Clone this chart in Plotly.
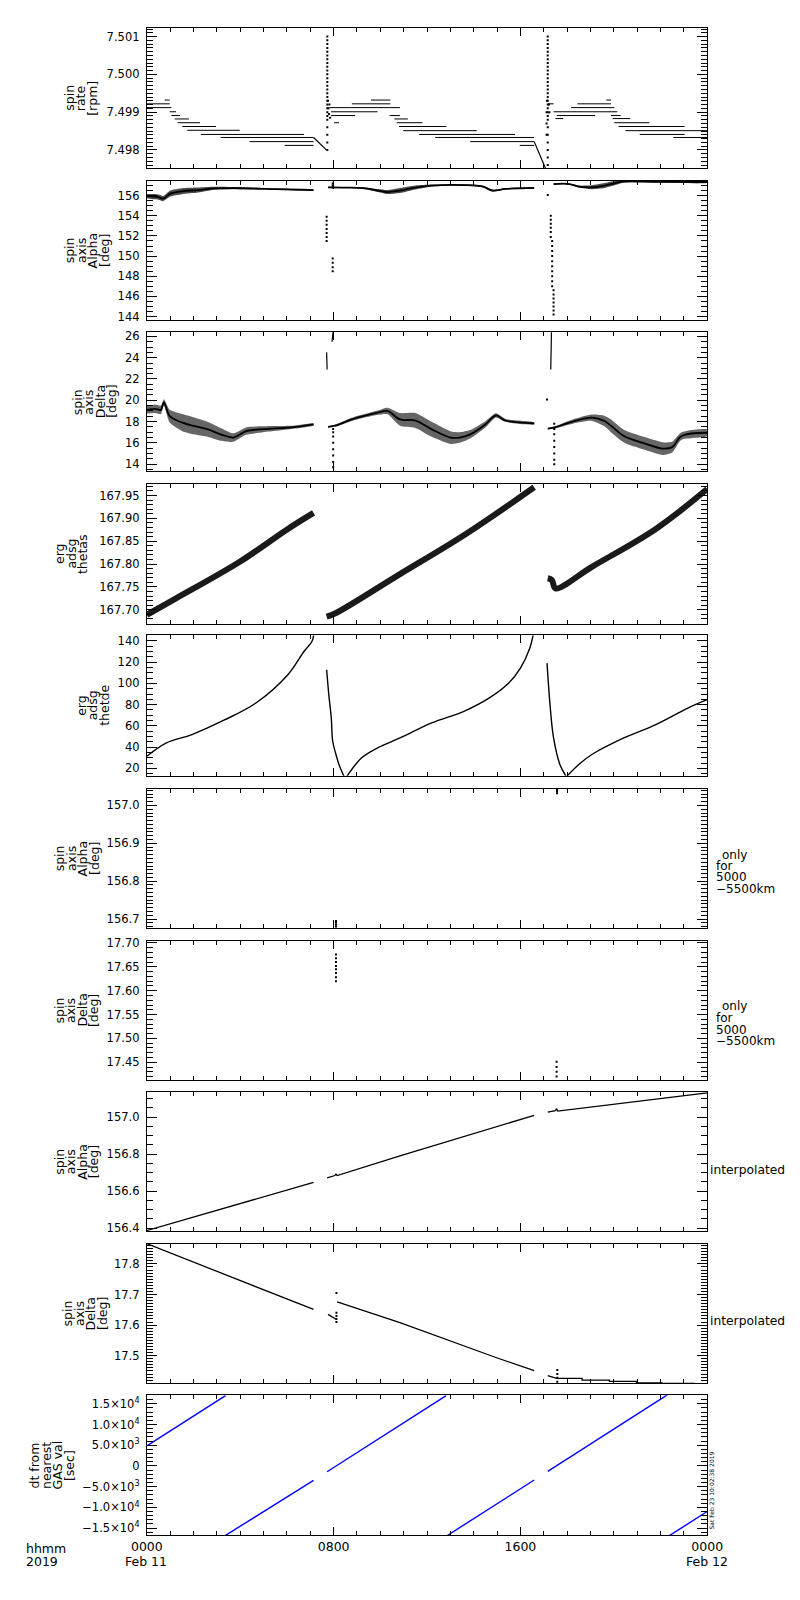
import plotly.graph_objects as go

# ---------------- data (time in hours from 2019-02-11 00:00 UT) ----------------
# Panel 1: spin rate [rpm] -- quantised level runs (start_h, end_h, value)
rate_runs = [
    (0.00, 0.98, 7.49922), (0.77, 0.98, 7.49932), (0.00, 1.05, 7.49912),
    (0.98, 1.25, 7.49901), (1.05, 1.42, 7.49891), (1.19, 1.80, 7.49882),
    (1.32, 2.28, 7.49872), (1.52, 2.96, 7.49862), (1.73, 3.98, 7.49852),
    (2.31, 6.73, 7.49841), (3.16, 7.14, 7.49833), (4.40, 7.14, 7.49822),
    (5.90, 7.14, 7.49812),
    (7.82, 10.84, 7.49912), (7.89, 9.88, 7.49901), (7.89, 8.92, 7.49891),
    (8.02, 8.23, 7.49872), (8.78, 10.43, 7.49922), (9.60, 10.43, 7.49932),
    (10.40, 10.84, 7.49891), (10.60, 11.18, 7.49882), (10.70, 11.80, 7.49872),
    (10.80, 12.83, 7.49862), (10.98, 14.13, 7.49851), (11.66, 15.77, 7.49841),
    (12.35, 16.59, 7.49833), (13.85, 16.59, 7.49822), (15.97, 16.59, 7.49812),
    (17.20, 17.42, 7.49922), (18.44, 19.88, 7.49922), (19.68, 19.88, 7.49932),
    (18.17, 20.02, 7.49912), (17.42, 20.15, 7.49901), (17.56, 19.20, 7.49891),
    (19.88, 20.29, 7.49891), (17.50, 17.83, 7.49883), (19.95, 20.70, 7.49883),
    (20.02, 21.52, 7.49872), (20.20, 23.03, 7.49862), (20.50, 24.00, 7.49851),
    (21.11, 23.03, 7.49841), (22.55, 24.00, 7.49833),
]
rate_ramp_a_t = [7.14, 7.69]
rate_ramp_a_v = [7.49833, 7.49800]
rate_ramp_b_t = [16.59, 17.07]
rate_ramp_b_v = [7.49822, 7.49752]
rate_spike_a_h = 7.73
rate_spike_a_v = [7.4980, 7.4982, 7.4984, 7.4986, 7.4988, 7.4989, 7.4990, 7.4991,
                  7.4992, 7.4993, 7.4994, 7.4995, 7.4996, 7.4997, 7.4998, 7.4999,
                  7.5000, 7.5001, 7.5002, 7.5003, 7.5004, 7.5005, 7.5006, 7.5007,
                  7.5008, 7.5009, 7.5010]
rate_spike_b_h = 17.17
rate_spike_b_v = [7.4976, 7.4978, 7.4980, 7.4982, 7.4984, 7.4986, 7.4988, 7.4989,
                  7.4990, 7.4991, 7.4992, 7.4993, 7.4994, 7.4995, 7.4996, 7.4997,
                  7.4998, 7.4999, 7.5000, 7.5001, 7.5002, 7.5003, 7.5004, 7.5005,
                  7.5006, 7.5007, 7.5008, 7.5009, 7.5010]
rate_extra_t = [7.76, 7.78, 7.80, 7.82, 7.85, 17.12, 17.12, 17.12, 17.14, 17.22, 17.24]
rate_extra_v = [7.4993, 7.4991, 7.49895, 7.4992, 7.49885, 7.4984, 7.4987, 7.4990,
                7.4993, 7.4992, 7.4990]

# Panel 2: spin axis alpha [deg] -- centre line and half-width of scatter band
alpha_a_t = [0.0, 0.3, 0.5, 0.7, 1.0, 1.5, 2.2, 2.9, 4.0, 5.5, 7.14]
alpha_a_v = [155.95, 155.9, 155.85, 155.7, 156.2, 156.43, 156.55, 156.72, 156.73, 156.65, 156.55]
alpha_a_w = [0.2, 0.25, 0.25, 0.25, 0.3, 0.3, 0.25, 0.15, 0.1, 0.05, 0.05]
alpha_b_t = [7.76, 8.5, 9.24, 9.9, 10.3, 10.84, 11.5, 12.2, 13.58, 14.4, 14.8, 15.36, 16.59]
alpha_b_v = [156.82, 156.8, 156.75, 156.5, 156.35, 156.5, 156.8, 157.0, 157.05, 156.9, 156.5, 156.66, 156.76]
alpha_b_w = [0.05, 0.05, 0.08, 0.15, 0.2, 0.25, 0.2, 0.1, 0.08, 0.08, 0.1, 0.05, 0.05]
alpha_c_t = [17.42, 18.1, 18.5, 19.06, 19.6, 20.15, 20.43, 22.0, 24.0]
alpha_c_v = [157.15, 157.15, 156.9, 156.83, 157.0, 157.3, 157.4, 157.37, 157.35]
alpha_c_w = [0.05, 0.05, 0.1, 0.2, 0.25, 0.2, 0.1, 0.08, 0.08]
alpha_drop_t = [7.70] * 7 + [7.96] * 4 + [7.96] * 3 + [17.17] + [17.30] * 6 + [17.36] * 10 + [17.42] * 7
alpha_drop_v = [153.9, 153.5, 153.1, 152.7, 152.3, 151.9, 151.5,
                149.75, 149.35, 148.9, 148.5,
                156.8, 157.0, 157.2,
                156.07,
                154.0, 153.6, 153.2, 152.8, 152.4, 151.9,
                151.5, 151.0, 150.5, 150.0, 149.5, 149.0, 148.5, 148.0, 147.5, 147.0,
                146.6, 146.2, 145.8, 145.4, 145.0, 144.6, 144.2]

# Panel 3: spin axis delta [deg]
delta_a_t = [0.0, 0.35, 0.6, 0.73, 0.98, 1.52, 2.0, 2.62, 3.16, 3.71, 4.25, 5.35, 6.2, 7.14]
delta_a_v = [19.1, 19.2, 19.1, 19.8, 18.5, 17.9, 17.6, 17.26, 16.8, 16.5, 17.1, 17.33, 17.45, 17.73]
delta_a_w = [0.35, 0.4, 0.4, 0.3, 0.6, 0.8, 0.8, 0.7, 0.6, 0.4, 0.35, 0.25, 0.15, 0.1]
delta_b_t = [7.76, 8.1, 8.78, 9.88, 10.3, 10.84, 11.5, 12.2, 13.0, 13.4, 13.85, 14.5, 14.95, 15.36, 16.59]
delta_b_v = [17.5, 17.63, 18.2, 18.83, 19.0, 18.2, 18.1, 17.27, 16.5, 16.5, 16.8, 17.73, 18.57, 18.1, 17.83]
delta_b_w = [0.05, 0.1, 0.15, 0.2, 0.3, 0.6, 0.7, 0.7, 0.6, 0.5, 0.4, 0.3, 0.2, 0.15, 0.1]
delta_c_t = [17.17, 17.42, 18.24, 19.06, 19.6, 19.88, 20.43, 21.25, 22.1, 22.5, 22.9, 24.0]
delta_c_v = [17.33, 17.42, 18.0, 18.36, 18.05, 17.6, 16.64, 16.0, 15.46, 15.6, 16.64, 16.95]
delta_c_w = [0.05, 0.1, 0.2, 0.3, 0.5, 0.6, 0.6, 0.6, 0.6, 0.5, 0.35, 0.3]
delta_jump_a_t = [7.70, 7.72]
delta_jump_a_v = [24.5, 22.9]
delta_jump_b_t = [7.93, 7.98]
delta_jump_b_v = [25.5, 26.5]
delta_jump_c_t = [17.30, 17.33]
delta_jump_c_v = [22.9, 26.5]
delta_dots_t = [7.98] * 8 + [17.14] + [17.45] * 8
delta_dots_v = [17.3, 17.0, 16.6, 16.0, 15.4, 14.8, 14.2, 13.7,
                20.07,
                17.8, 17.3, 16.8, 16.2, 15.6, 15.0, 14.4, 14.0]

# Panel 4: erg adsg thetas
thetas_a_t = [0.0, 1.25, 3.98, 6.04, 7.14]
thetas_a_v = [167.689, 167.725, 167.805, 167.877, 167.912]
thetas_b_t = [7.70, 8.1, 10.84, 13.58, 16.59]
thetas_b_v = [167.685, 167.693, 167.778, 167.863, 167.968]
thetas_c_t = [17.17, 17.35, 17.5, 19.06, 21.8, 24.0]
thetas_c_v = [167.769, 167.765, 167.747, 167.794, 167.877, 167.964]

# Panel 5: erg adsg thetde
thetde_a_t = [0.0, 0.84, 1.93, 3.3, 4.67, 6.04, 6.73, 7.07, 7.15]
thetde_a_v = [31.4, 44.0, 51.8, 65.3, 81.5, 108.2, 130.1, 139.5, 146.0]
thetde_b_t = [7.70, 7.80, 7.90, 7.96, 8.10, 8.23, 8.44]
thetde_b_v = [112.9, 88.0, 67.4, 45.5, 33.0, 23.6, 12.5]
thetde_c_t = [8.57, 9.2, 9.88, 10.84, 12.2, 13.58, 14.67, 15.5, 16.0, 16.4, 16.55]
thetde_c_v = [12.5, 29.9, 39.3, 48.6, 62.8, 73.7, 86.3, 100.3, 114.4, 133.2, 146.0]
thetde_d_t = [17.14, 17.28, 17.42, 17.69, 17.94]
thetde_d_v = [119.1, 76.8, 48.6, 23.6, 13.0]
thetde_e_t = [17.99, 18.5, 19.06, 20.43, 21.8, 23.17, 24.0]
thetde_e_v = [12.5, 23.6, 33.0, 48.6, 61.2, 76.8, 84.7]

# Panel 6: spin axis alpha, only for 5000-5500 km
alpha_r_t = [8.10] * 4 + [17.57] * 3
alpha_r_v = [156.695, 156.690, 156.685, 156.680, 157.041, 157.037, 157.032]

# Panel 7: spin axis delta, only for 5000-5500 km
delta_r_t = [8.10] * 8 + [17.55] * 4
delta_r_v = [17.676, 17.668, 17.660, 17.652, 17.645, 17.637, 17.628, 17.620,
             17.451, 17.440, 17.430, 17.420]

# Panel 8: interpolated alpha
alpha_i_a_t = [0.0, 7.14]
alpha_i_a_v = [156.387, 156.647]
alpha_i_b_t = [7.72, 8.05, 8.10, 8.15, 10.84, 16.59]
alpha_i_b_v = [156.672, 156.684, 156.692, 156.684, 156.79, 157.009]
alpha_i_c_t = [17.17, 17.50, 17.55, 17.60, 24.0]
alpha_i_c_v = [157.027, 157.035, 157.045, 157.032, 157.131]

# Panel 9: interpolated delta
delta_i_a_t = [0.0, 7.14]
delta_i_a_v = [17.866, 17.651]
delta_i_b_t = [7.76, 8.10]
delta_i_b_v = [17.635, 17.619]
delta_i_c_t = [8.15, 10.84, 14.95, 16.59]
delta_i_c_v = [17.676, 17.608, 17.494, 17.451]
delta_i_d_t = [17.17, 17.55, 17.55, 18.64, 18.64, 19.81, 19.81, 20.97, 20.97, 22.06, 22.06, 23.48]
delta_i_d_v = [17.435, 17.428, 17.426, 17.426, 17.420, 17.420, 17.416, 17.416, 17.411, 17.411, 17.409, 17.409]
delta_i_dots_t = [8.12] * 5 + [17.58] * 4
delta_i_dots_v = [17.705, 17.640, 17.630, 17.620, 17.610, 17.453, 17.440, 17.428, 17.415]

# Panel 10: dt from nearest GAS value [sec]
dt_segments_t = [[0.0, 3.37], [3.37, 7.14], [7.72, 12.82], [12.82, 16.59], [17.17, 22.29], [22.29, 24.0]]
dt_segments_v = [[4850, 16980], [-16750, -3500], [-1400, 16970], [-16970, -3400], [-1300, 17150], [-17140, -11000]]

y_titles = [["spin", "rate", "[rpm]"], ["spin", "axis", "Alpha", "[deg]"],
            ["spin", "axis", "Delta", "[deg]"], ["erg", "adsg", "thetas"],
            ["erg", "adsg", "thetde"], ["spin", "axis", "Alpha", "[deg]"],
            ["spin", "axis", "Delta", "[deg]"], ["spin", "axis", "Alpha", "[deg]"],
            ["spin", "axis", "Delta", "[deg]"], ["dt from", "nearest", "GAS val", "[sec]"]]
x_tick_vals = [0, 8, 16, 24]
x_tick_text = ["0000", "0800", "1600", "0000"]
x_date_text = ["Feb 11", "Feb 12"]
dt_tick_vals = [-15000, -10000, -5000, 0, 5000, 10000, 15000]
dt_tick_text = ["−1.5×10<sup>4</sup>", "−1.0×10<sup>4</sup>", "−5.0×10<sup>3</sup>", "0",
                "5.0×10<sup>3</sup>", "1.0×10<sup>4</sup>", "1.5×10<sup>4</sup>"]

# ---------------- layout geometry (pixels) ----------------
W, H = 800, 1600
PX0, PX1 = 136.3, 720.0
panels = [(23, 164), (177, 317), (329, 469), (482, 622), (634, 775),
          (788, 928), (941, 1081), (1093, 1233), (1246, 1386), (1398, 1539)]
y_ranges = [[7.49752, 7.50123], [143.64, 157.45], [13.32, 26.4], [167.670, 167.9746],
            [13.1, 145.2], [156.677, 157.0446], [17.413, 17.7048], [156.384, 157.136],
            [17.41, 17.865], [-16752, 17088]]
y_major = [(7.498, 0.001, ".3f"), (144, 2, "d"), (14, 2, "d"), (167.70, 0.05, ".2f"),
           (20, 20, "d"), (156.7, 0.1, ".1f"), (17.45, 0.05, ".2f"), (156.4, 0.2, ".1f"),
           (17.5, 0.1, ".1f"), None]
y_minor = [0.0001, 0.5, 0.5, 0.01, 5, 0.01, 0.01, 0.05, 0.01, 1000]
title_last_x = [80, 92, 100, 70, 92, 81, 81, 81, 90, 55]
FONT = "DejaVu Sans"

fig = go.Figure()


def ax(i):
    return ("x" if i == 1 else f"x{i}"), ("y" if i == 1 else f"y{i}")


def line(i, t, v, width=1.0, color="black", shape="linear"):
    xa, ya = ax(i)
    fig.add_trace(go.Scatter(x=t, y=v, mode="lines", xaxis=xa, yaxis=ya,
                             line=dict(color=color, width=width, shape=shape),
                             showlegend=False, hoverinfo="skip"))


def dots(i, t, v, size=2.2, color="black"):
    xa, ya = ax(i)
    fig.add_trace(go.Scatter(x=t, y=v, mode="markers", xaxis=xa, yaxis=ya,
                             marker=dict(color=color, size=size, symbol="square",
                                         line=dict(width=0)),
                             showlegend=False, hoverinfo="skip", cliponaxis=True))


def band(i, t, v, w, alpha=0.55):
    xa, ya = ax(i)
    up = [a + b for a, b in zip(v, w)]
    lo = [a - b for a, b in zip(v, w)]
    fig.add_trace(go.Scatter(x=list(t) + list(t)[::-1], y=up + lo[::-1], mode="lines",
                             fill="toself", fillcolor=f"rgba(0,0,0,{alpha})",
                             line=dict(width=0, shape="spline", smoothing=0.6),
                             xaxis=xa, yaxis=ya, showlegend=False, hoverinfo="skip"))
    line(i, t, v, width=1.8, shape="spline")


# panel 1
rx, ry = [], []
for s, e, val in rate_runs:
    rx += [s, e, None]
    ry += [val, val, None]
line(1, rx, ry, width=1.0)
line(1, rate_ramp_a_t, rate_ramp_a_v, width=1.2)
line(1, rate_ramp_b_t, rate_ramp_b_v, width=1.2)
dots(1, [rate_spike_a_h] * len(rate_spike_a_v), rate_spike_a_v, size=2)
dots(1, [rate_spike_b_h] * len(rate_spike_b_v), rate_spike_b_v, size=2)
dots(1, rate_extra_t, rate_extra_v, size=2)

# panel 2
band(2, alpha_a_t, alpha_a_v, alpha_a_w, alpha=0.7)
band(2, alpha_b_t, alpha_b_v, alpha_b_w, alpha=0.7)
band(2, alpha_c_t, alpha_c_v, alpha_c_w, alpha=0.7)
dots(2, alpha_drop_t, alpha_drop_v, size=2)

# panel 3
band(3, delta_a_t, delta_a_v, delta_a_w, alpha=0.6)
band(3, delta_b_t, delta_b_v, delta_b_w, alpha=0.6)
band(3, delta_c_t, delta_c_v, delta_c_w, alpha=0.6)
line(3, delta_jump_a_t, delta_jump_a_v, width=1.2)
line(3, delta_jump_b_t, delta_jump_b_v, width=1.2)
line(3, delta_jump_c_t, delta_jump_c_v, width=1.2)
dots(3, delta_dots_t, delta_dots_v, size=2)

# panel 4
for t, v in [(thetas_a_t, thetas_a_v), (thetas_b_t, thetas_b_v), (thetas_c_t, thetas_c_v)]:
    line(4, t, v, width=6, color="#1a1a1a", shape="spline")

# panel 5
for t, v in [(thetde_a_t, thetde_a_v), (thetde_b_t, thetde_b_v), (thetde_c_t, thetde_c_v),
             (thetde_d_t, thetde_d_v), (thetde_e_t, thetde_e_v)]:
    line(5, t, v, width=1.4, shape="spline")

# panels 6, 7
dots(6, alpha_r_t, alpha_r_v, size=2)
dots(7, delta_r_t, delta_r_v, size=2)

# panel 8
for t, v in [(alpha_i_a_t, alpha_i_a_v), (alpha_i_b_t, alpha_i_b_v), (alpha_i_c_t, alpha_i_c_v)]:
    line(8, t, v, width=1.3)

# panel 9
for t, v in [(delta_i_a_t, delta_i_a_v), (delta_i_b_t, delta_i_b_v),
             (delta_i_c_t, delta_i_c_v), (delta_i_d_t, delta_i_d_v)]:
    line(9, t, v, width=1.3)
dots(9, delta_i_dots_t, delta_i_dots_v, size=2)

# panel 10
for t, v in zip(dt_segments_t, dt_segments_v):
    line(10, t, v, width=1.4, color="#0000ff")

# axes
layout = dict(width=W, height=H, margin=dict(l=0, r=0, t=0, b=0), autosize=False,
              paper_bgcolor="white", plot_bgcolor="white",
              font=dict(family=FONT, color="black", size=12), showlegend=False)
annotations = []
for k in range(10):
    i = k + 1
    top, bot = panels[k]
    xa_name = "xaxis" if i == 1 else f"xaxis{i}"
    ya_name = "yaxis" if i == 1 else f"yaxis{i}"
    layout[xa_name] = dict(
        domain=[PX0 / W, PX1 / W], range=[0, 24], anchor=ax(i)[1],
        showline=True, linecolor="black", linewidth=1, mirror="ticks",
        ticks="inside", ticklen=8, tickcolor="black", tickwidth=1,
        tickmode="array", tickvals=x_tick_vals, ticktext=x_tick_text,
        showticklabels=(i == 10), tickfont=dict(family=FONT, size=12.5),
        minor=dict(dtick=1, tick0=0, ticks="inside", ticklen=4, tickcolor="black",
                   showgrid=False),
        showgrid=False, zeroline=False, fixedrange=True,
    )
    yd = dict(
        domain=[1 - bot / H, 1 - top / H], range=y_ranges[k], anchor=ax(i)[0],
        showline=True, linecolor="black", linewidth=1, mirror="ticks",
        ticks="inside", ticklen=10, tickcolor="black", tickwidth=1,
        tickfont=dict(family=FONT, size=11.5), ticklabelstandoff=4,
        minor=dict(dtick=y_minor[k], ticks="inside", ticklen=6, tickcolor="black",
                   showgrid=False),
        showgrid=False, zeroline=False, fixedrange=True,
    )
    if y_major[k] is None:
        yd.update(tickmode="array", tickvals=dt_tick_vals, ticktext=dt_tick_text)
        yd["minor"]["tick0"] = 0
    else:
        t0, dt, fmt = y_major[k]
        yd.update(tickmode="linear", tick0=t0, dtick=dt, tickformat=fmt)
        yd["minor"]["tick0"] = t0
    layout[ya_name] = yd

    # multi-line rotated y title
    words = y_titles[k]
    yc = (top + bot) / 2
    n = len(words)
    for j, wd in enumerate(words):
        xc = title_last_x[k] - 12 * (n - 1 - j)
        annotations.append(dict(text=wd, x=xc / W, y=1 - yc / H, xref="paper", yref="paper",
                                textangle=-90, xanchor="center", yanchor="middle",
                                showarrow=False, font=dict(family=FONT, size=12.5)))

# right-hand notes
for ys in [(855, 866, 877, 889), (1006.7, 1019, 1030.7, 1041.7)]:
    for txt, yy, xx in zip(["only", "for", "5000", "−5500km"], ys, [733, 727, 727, 727]):
        annotations.append(dict(text=txt, x=xx / W, y=1 - yy / H, xref="paper", yref="paper",
                                xanchor="left", yanchor="middle", showarrow=False,
                                font=dict(family=FONT, size=12)))
for yy in (1171.7, 1323.3):
    annotations.append(dict(text="interpolated", x=721 / W, y=1 - yy / H, xref="paper",
                            yref="paper", xanchor="left", yanchor="middle", showarrow=False,
                            font=dict(family=FONT, size=12.3)))
annotations.append(dict(text="Sat Feb 23 10:02:38 2019", x=725 / W, y=1 - 1494 / H,
                        xref="paper", yref="paper", textangle=-90, xanchor="center",
                        yanchor="middle", showarrow=False, font=dict(family=FONT, size=6)))
# bottom labels
for txt, yy in [("hhmm", 1552), ("2019", 1565)]:
    annotations.append(dict(text=txt, x=8 / W, y=1 - yy / H, xref="paper", yref="paper",
                            xanchor="left", yanchor="middle", showarrow=False,
                            font=dict(family=FONT, size=12.5)))
for txt, xx in zip(x_date_text, (135, 720)):
    annotations.append(dict(text=txt, x=xx / W, y=1 - 1565 / H, xref="paper", yref="paper",
                            xanchor="center", yanchor="middle", showarrow=False,
                            font=dict(family=FONT, size=12.5)))
layout["annotations"] = annotations
fig.update_layout(**layout)

fig.write_html("out.html", post_script="document.body.style.margin='0';",
               config={"displayModeBar": False, "responsive": False})
